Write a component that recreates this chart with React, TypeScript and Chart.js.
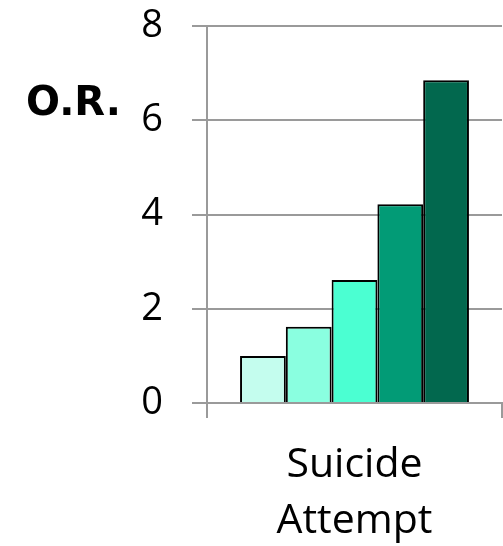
import React, { useEffect, useRef } from "react";
import { Chart, registerables } from "chart.js";

Chart.register(...registerables);

// Odds ratios for suicide attempt, one bar per group
const categories: string[][] = [["Suicide", "Attempt"]];
const groupNames = ["Group 1", "Group 2", "Group 3", "Group 4", "Group 5"];
const oddsRatios = [1.0, 1.62, 2.61, 4.22, 6.85];
const barColors = ["#c4fdee", "#8affe0", "#4bffd2", "#029b76", "#02684e"];
const yTicks = [0, 2, 4, 6, 8];
const yTitle = "O.R.";

const FONT = "'Open Sans', sans-serif";
const GRID = "#9a9a9a";

// Horizontal axis title drawn beside the top of the value axis
const titlePlugin = {
  id: "orTitle",
  afterDraw(chart: any) {
    const { ctx, scales } = chart;
    const y = scales.y;
    ctx.save();
    ctx.font = `bold 40px 'DejaVu Sans', sans-serif`;
    ctx.fillStyle = "#000";
    ctx.textAlign = "left";
    ctx.textBaseline = "alphabetic";
    ctx.fillText(yTitle, 26, y.getPixelForValue(6) - 5);
    ctx.restore();
  },
};

export default function App() {
  const ref = useRef<HTMLCanvasElement>(null);

  useEffect(() => {
    if (!ref.current) return;
    const chart = new Chart(ref.current, {
      type: "bar",
      data: {
        labels: categories,
        datasets: oddsRatios.map((v, i) => ({
          label: groupNames[i],
          data: [v],
          backgroundColor: barColors[i],
          borderColor: "#000",
          borderWidth: 2,
          barPercentage: 1,
          categoryPercentage: 0.776,
        })),
      },
      options: {
        responsive: false,
        animation: false,
        devicePixelRatio: 1,
        layout: { padding: { top: 26, right: 1, left: 0, bottom: 0 } },
        plugins: { legend: { display: false }, tooltip: { enabled: false } },
        scales: {
          x: {
            grid: {
              offset: true,
              drawOnChartArea: false,
              drawTicks: true,
              tickLength: 15,
              color: GRID,
              lineWidth: 2,
            },
            border: { color: GRID, width: 2 },
            ticks: {
              color: "#000",
              font: { family: FONT, size: 41, lineHeight: 1.35 },
              padding: 20,
              maxRotation: 0,
            },
            afterFit(scale: any) {
              scale.height = 143;
              scale.paddingLeft = 0;
              scale.paddingRight = 0;
            },
          },
          y: {
            min: 0,
            max: 8,
            afterBuildTicks(scale: any) {
              scale.ticks = yTicks.map((v) => ({ value: v }));
            },
            grid: { color: GRID, lineWidth: 2, tickLength: 15 },
            border: { color: GRID, width: 2 },
            ticks: {
              color: "#000",
              font: { family: FONT, size: 38 },
              padding: 29,
            },
            afterFit(scale: any) {
              scale.width = 207;
              scale.paddingTop = 0;
              scale.paddingBottom = 0;
            },
          },
        },
      },
      plugins: [titlePlugin],
    });
    return () => chart.destroy();
  }, []);

  return (
    <div style={{ position: "absolute", left: 0, top: 0, width: 503, height: 546, background: "#fff" }}>
      <canvas ref={ref} width={503} height={546} />
    </div>
  );
}
